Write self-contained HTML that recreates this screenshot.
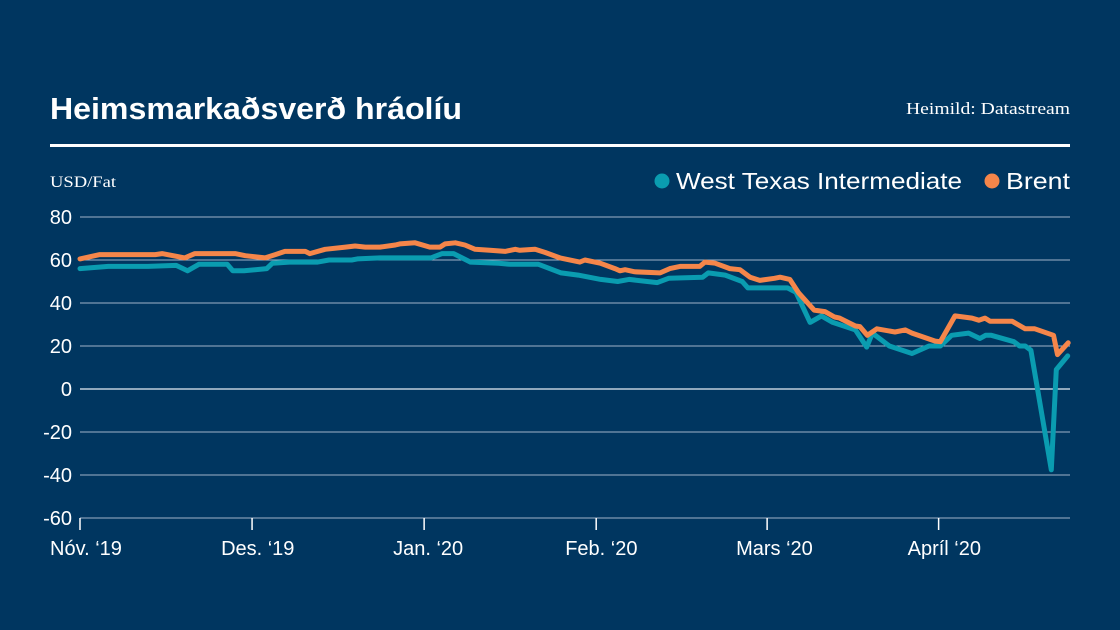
<!DOCTYPE html>
<html><head><meta charset="utf-8"><style>
html,body{margin:0;padding:0;background:#003660;}
svg{display:block;}
</style></head><body>
<svg width="1120" height="630" viewBox="0 0 1120 630" xmlns="http://www.w3.org/2000/svg">
<rect x="0" y="0" width="1120" height="630" fill="#003660"/>
<text x="50" y="119" fill="#fff" font-family="Liberation Sans, sans-serif" font-size="31" font-weight="bold" textLength="412" lengthAdjust="spacingAndGlyphs">Heimsmarkaðsverð  hráolíu</text>
<text x="1070" y="114" fill="#fff" text-anchor="end" font-family="Liberation Serif, serif" font-size="17" textLength="164" lengthAdjust="spacingAndGlyphs">Heimild: Datastream</text>
<rect x="50" y="144" width="1020" height="3" fill="#fff"/>
<text x="50" y="187" fill="#fff" font-family="Liberation Serif, serif" font-size="16" textLength="66" lengthAdjust="spacingAndGlyphs">USD/Fat</text>
<g>
<circle cx="662" cy="181" r="7.5" fill="#0a9cb0"/>
<text x="676" y="189" fill="#fff" font-family="Liberation Sans, sans-serif" font-size="23" textLength="286" lengthAdjust="spacingAndGlyphs">West Texas Intermediate</text>
<circle cx="992" cy="181" r="7.5" fill="#f5864a"/>
<text x="1006" y="189" fill="#fff" font-family="Liberation Sans, sans-serif" font-size="23" textLength="64" lengthAdjust="spacingAndGlyphs">Brent</text>
</g>
<g id="grid"></g>
<g id="series"></g>
<g id="axis"></g>
</svg>
<script>
const yTicks = [80, 60, 40, 20, 0, -20, -40, -60];
const monthLabels = ["Nóv. ‘19", "Des. ‘19", "Jan. ‘20", "Feb. ‘20", "Mars ‘20", "Apríl ‘20"];
const monthDays = [0, 30.4, 60.8, 91.2, 121.4, 151.7];
const wtiDays = [0,5,12,17,19,21,26,27,29,33,34,37,42,44,48,49,53,60,62,64,66,69,74,76,81,85,88,92,95,97,102,104,110,111,114,117,118,125,126.5,129,131,133,137,139,140,143,147,150,152,154,157,159,160,161,165,166,167,168,171.6,172.5,174.5];
const wtiVals = [56,57,57,57.5,55,58,58,55,55,56,58.5,59,59,60,60,60.5,61,61,61,63,63,59,58.5,58,58,54,53,51,50,51,49.5,51.5,52,54,53,50,47,47,45,31,34,31,27.5,19.5,26,20,16.5,20,20,25,26,23.5,25,25,22,20,20,18,-37.6,9,15.4];
const brentDays = [0,3.5,13.3,14.5,18.5,20.3,27.4,29.2,32.7,34.5,36.2,39.8,40.6,43.3,46.9,48.6,50.4,53,55.7,56.5,59.2,61.8,63.6,64.5,66.3,68,69.8,72.4,75.1,76.9,77.7,80.4,82.2,84.8,88.3,89.2,91.9,94.5,95.4,96.3,98,102.5,104.2,106,109.5,110.4,112.2,114.8,116.6,118.4,120.1,122.7,123.7,125.4,127,129.7,131.6,133.3,134.2,137,137.8,139.1,140.8,144,145.8,147,151.1,152,154.6,157.6,158.8,159.9,160.8,164.7,167,168.7,172,172.7,174.6];
const brentVals = [60.5,62.5,62.5,63,61,63,63,62,61,62.5,64,64,63,65,66,66.5,66,66,67,67.5,68,66,66,67.5,68,67,65,64.5,64,65,64.5,65,63.5,61,59,60,58.5,56,55,55.5,54.5,54,56,57,57,59,58.5,56,55.5,52,50.5,51.5,52,51,44.6,36.7,36,33.5,33,29.3,29,25,28,26.5,27.5,26,22.3,22,34,33,32,33,31.5,31.5,28,28,25,16,21.5];

const NS = "http://www.w3.org/2000/svg";
const X0 = 80, X1 = 1070, PXPERUNIT = 43/20;
function xScale(d){ return X0 + d * 5.66; }
function yScale(v){ return 389 - v * PXPERUNIT; }

const grid = document.getElementById('grid');
const axis = document.getElementById('axis');
yTicks.forEach(function(t){
  const y = yScale(t);
  const ln = document.createElementNS(NS, 'line');
  ln.setAttribute('x1', X0); ln.setAttribute('x2', X1);
  ln.setAttribute('y1', y); ln.setAttribute('y2', y);
  ln.setAttribute('stroke', t === 0 ? '#e6ecf2' : '#9fb3c8');
  ln.setAttribute('stroke-width', t === 0 ? 1.3 : 1);
  
  
  grid.appendChild(ln);
  const tx = document.createElementNS(NS, 'text');
  tx.setAttribute('x', 72); tx.setAttribute('y', y + 7);
  tx.setAttribute('text-anchor', 'end');
  tx.setAttribute('fill', '#fff');
  tx.setAttribute('font-family', 'Liberation Sans, sans-serif');
  tx.setAttribute('font-size', '20');
  tx.textContent = t;
  
  
  axis.appendChild(tx);
});
monthDays.forEach(function(d, i){
  const x = xScale(d);
  const tk = document.createElementNS(NS, 'line');
  tk.setAttribute('x1', x); tk.setAttribute('x2', x);
  tk.setAttribute('y1', 518); tk.setAttribute('y2', 530);
  tk.setAttribute('stroke', '#fff'); tk.setAttribute('stroke-width', 1.5);
  
  
  axis.appendChild(tk);
  const tx = document.createElementNS(NS, 'text');
  tx.setAttribute('x', i === 0 ? 50 : x - 31); tx.setAttribute('y', 555);
  tx.setAttribute('fill', '#fff');
  tx.setAttribute('font-family', 'Liberation Sans, sans-serif');
  tx.setAttribute('font-size', '20');
  tx.textContent = monthLabels[i];
  
  
  axis.appendChild(tx);
});
const series = document.getElementById('series');
function drawLine(days, vals, color, name){
  const pts = days.map(function(d, i){ return xScale(d).toFixed(1) + ',' + yScale(vals[i]).toFixed(1); }).join(' ');
  const pl = document.createElementNS(NS, 'polyline');
  pl.setAttribute('points', pts);
  pl.setAttribute('fill', 'none');
  pl.setAttribute('stroke', color);
  pl.setAttribute('stroke-width', 5);
  pl.setAttribute('stroke-linejoin', 'round');
  pl.setAttribute('stroke-linecap', 'round');
  
  
  series.appendChild(pl);
}
drawLine(wtiDays, wtiVals, '#0a9cb0', 'wti-line');
drawLine(brentDays, brentVals, '#f5864a', 'brent-line');
</script>
</body></html>
